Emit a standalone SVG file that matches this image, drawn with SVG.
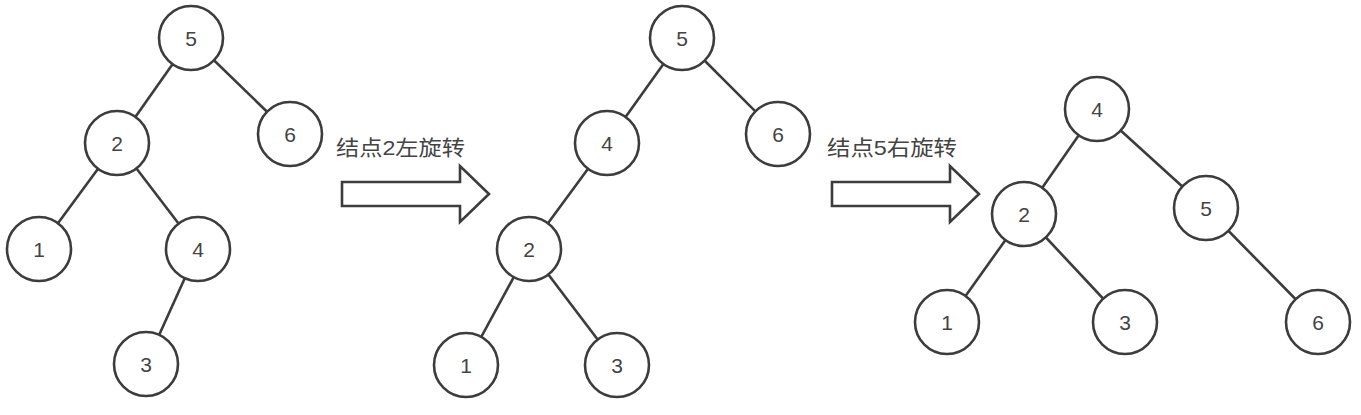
<svg xmlns="http://www.w3.org/2000/svg" width="1361" height="415" viewBox="0 0 1361 415">
<style>
.n circle{fill:#fff;stroke:#3c3c3c;stroke-width:2.6}
.n text{font-family:"Liberation Sans",Arial,sans-serif;font-size:21px;fill:#444;text-anchor:middle;dominant-baseline:central}
.e line{stroke:#3c3c3c;stroke-width:2.6}
.arr{fill:#fff;stroke:#3c3c3c;stroke-width:2.6;stroke-linejoin:miter}
.lbl{font-family:"Liberation Sans","Noto Sans CJK SC",sans-serif;font-size:21px;fill:#444}
</style>
<rect width="1361" height="415" fill="#fff"/>
<g id="connectors" class="e">
<line x1="191" y1="38" x2="117" y2="143"/>
<line x1="191" y1="38" x2="290" y2="134"/>
<line x1="117" y1="143" x2="39" y2="249"/>
<line x1="117" y1="143" x2="198" y2="249"/>
<line x1="198" y1="249" x2="146" y2="364"/>
<line x1="682" y1="38" x2="607" y2="143"/>
<line x1="682" y1="38" x2="778" y2="134"/>
<line x1="607" y1="143" x2="529" y2="249"/>
<line x1="529" y1="249" x2="466" y2="365"/>
<line x1="529" y1="249" x2="617" y2="365"/>
<line x1="1097" y1="109" x2="1024" y2="214"/>
<line x1="1097" y1="109" x2="1206" y2="208"/>
<line x1="1024" y1="214" x2="947" y2="322"/>
<line x1="1024" y1="214" x2="1125" y2="322"/>
<line x1="1206" y1="208" x2="1318" y2="322"/>
</g>
<g id="t1n5" class="n"><circle cx="191" cy="38" r="32"/><text x="191" y="38">5</text></g>
<g id="t1n6" class="n"><circle cx="290" cy="134" r="32"/><text x="290" y="134">6</text></g>
<g id="t1n2" class="n"><circle cx="117" cy="143" r="32"/><text x="117" y="143">2</text></g>
<g id="t1n1" class="n"><circle cx="39" cy="249" r="32"/><text x="39" y="249">1</text></g>
<g id="t1n4" class="n"><circle cx="198" cy="249" r="32"/><text x="198" y="249">4</text></g>
<g id="t1n3" class="n"><circle cx="146" cy="364" r="32"/><text x="146" y="364">3</text></g>
<g id="t2n5" class="n"><circle cx="682" cy="38" r="32"/><text x="682" y="38">5</text></g>
<g id="t2n6" class="n"><circle cx="778" cy="134" r="32"/><text x="778" y="134">6</text></g>
<g id="t2n4" class="n"><circle cx="607" cy="143" r="32"/><text x="607" y="143">4</text></g>
<g id="t2n2" class="n"><circle cx="529" cy="249" r="32"/><text x="529" y="249">2</text></g>
<g id="t2n1" class="n"><circle cx="466" cy="365" r="32"/><text x="466" y="365">1</text></g>
<g id="t2n3" class="n"><circle cx="617" cy="365" r="32"/><text x="617" y="365">3</text></g>
<g id="t3n4" class="n"><circle cx="1097" cy="109" r="32"/><text x="1097" y="109">4</text></g>
<g id="t3n2" class="n"><circle cx="1024" cy="214" r="32"/><text x="1024" y="214">2</text></g>
<g id="t3n5" class="n"><circle cx="1206" cy="208" r="32"/><text x="1206" y="208">5</text></g>
<g id="t3n1" class="n"><circle cx="947" cy="322" r="32"/><text x="947" y="322">1</text></g>
<g id="t3n3" class="n"><circle cx="1125" cy="322" r="32"/><text x="1125" y="322">3</text></g>
<g id="t3n6" class="n"><circle cx="1318" cy="322" r="32"/><text x="1318" y="322">6</text></g>
<g id="arrow1">
<path class="arr" d="M342,182 H460 V166 L489,194 L460,222 V206 H342 Z"/>
<text class="lbl" x="336" y="155" textLength="129" lengthAdjust="spacingAndGlyphs">结点2左旋转</text>
</g>
<g id="arrow2">
<path class="arr" d="M832,182 H950 V166 L979,194 L950,222 V206 H832 Z"/>
<text class="lbl" x="827" y="155" textLength="130" lengthAdjust="spacingAndGlyphs">结点5右旋转</text>
</g>
</svg>
